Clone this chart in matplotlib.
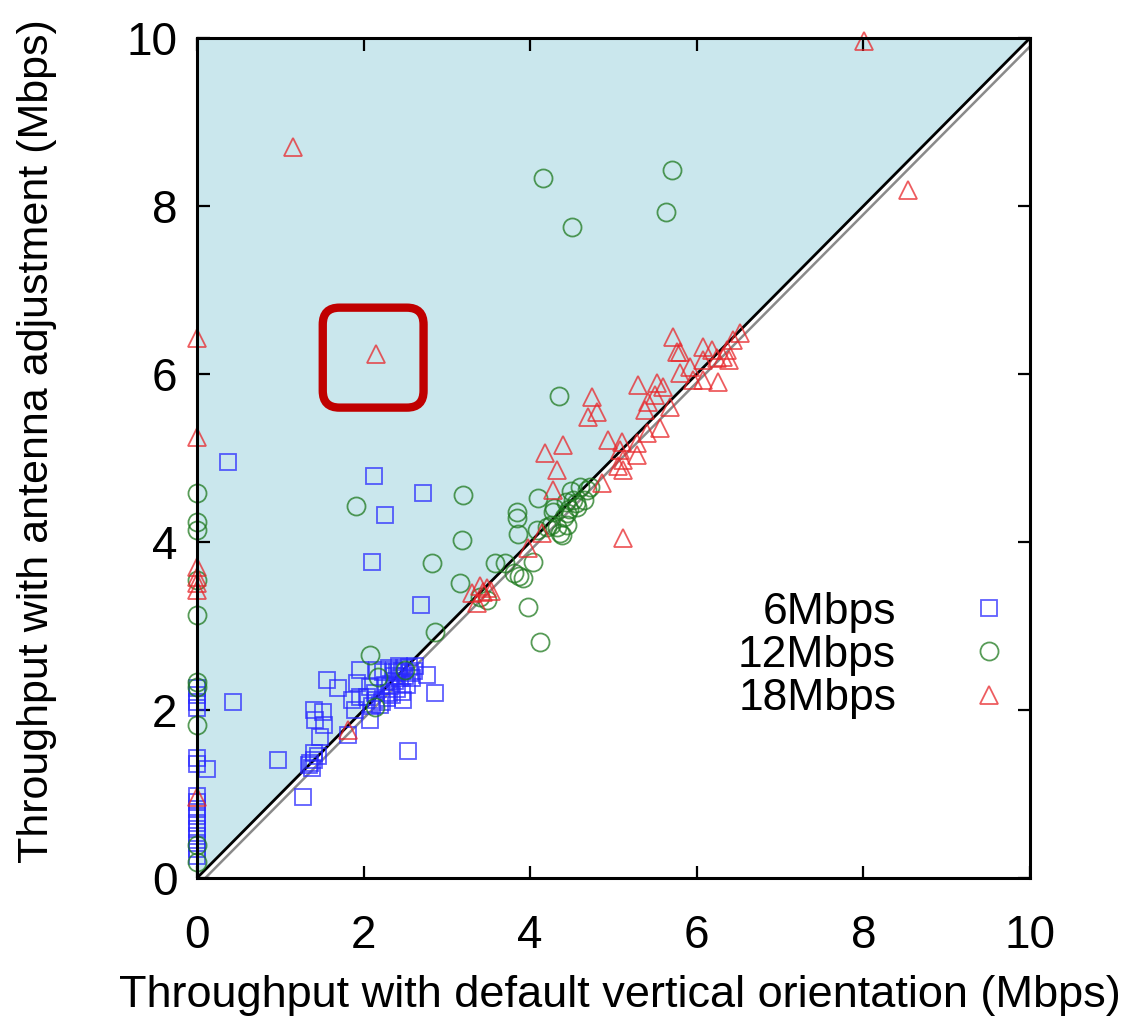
import matplotlib
matplotlib.use("Agg")
import matplotlib.pyplot as plt
from matplotlib.patches import Polygon, FancyBboxPatch

plt.rcParams['font.family'] = ['Liberation Sans', 'DejaVu Sans']

# ---- data ----
x_6 = [0, 0, 0, 0, 0, 0, 0.12, 0, 0, 0, 0, 0, 0, 0, 0, 0, 0,
       0.37, 2.12, 2.71, 2.26, 2.10, 2.69, 0.43, 0.97, 1.27, 2.53, 2.76, 2.86,
       1.56, 1.69, 1.96, 1.92, 1.86, 1.90, 1.96, 2.08, 2.04, 2.16, 2.08, 1.40,
       1.42, 1.51, 1.53, 1.48, 1.40, 1.36, 1.38, 1.45, 1.81, 1.35, 1.40,
       2.23, 2.30, 2.36, 2.42, 2.48, 2.55, 2.60, 2.50, 2.44, 2.38, 2.32, 2.40,
       2.46, 2.34, 2.28, 2.22, 2.30, 2.52, 2.56, 2.47, 2.20, 2.26, 2.14, 2.58,
       2.40, 2.10, 2.15, 2.36, 2.62, 2.46]
y_6 = [2.26, 2.18, 2.10, 2.02, 1.43, 1.36, 1.30, 0.98, 0.90, 0.82, 0.74, 0.66, 0.58, 0.50, 0.42, 0.34, 0.26,
       4.95, 4.79, 4.58, 4.32, 3.76, 3.25, 2.10, 1.40, 0.96, 1.51, 2.42, 2.20,
       2.36, 2.26, 2.48, 2.32, 2.12, 2.00, 2.15, 2.27, 2.15, 2.48, 1.88, 2.00,
       1.88, 1.98, 1.82, 1.68, 1.49, 1.37, 1.31, 1.45, 1.70, 1.34, 1.40,
       2.45, 2.50, 2.48, 2.52, 2.50, 2.51, 2.47, 2.40, 2.38, 2.34, 2.28, 2.25,
       2.22, 2.18, 2.14, 2.10, 2.20, 2.30, 2.44, 2.12, 2.06, 2.30, 2.20, 2.38,
       2.45, 2.05, 2.12, 2.40, 2.52, 2.46]

x_12 = [0, 0, 0, 0, 0, 0, 0, 0, 0, 0,
        4.15, 5.70, 5.63, 4.50, 4.35, 3.19, 1.91, 3.84, 3.84, 3.85, 4.09, 3.18,
        2.82, 3.16, 2.86, 3.58, 3.70, 3.80, 3.91, 3.86, 4.03, 3.97, 4.12, 3.48, 3.40,
        4.36, 4.20, 4.27, 4.44, 4.51, 4.60, 4.68, 4.56, 4.64, 4.08, 4.44, 4.38,
        4.32, 4.40, 4.47, 4.55, 4.29, 4.25, 4.43, 4.49, 4.72,
        2.08, 2.17, 2.14, 2.50]
y_12 = [4.58, 4.24, 4.14, 3.55, 3.13, 2.33, 2.27, 1.82, 0.39, 0.19,
        8.33, 8.43, 7.93, 7.75, 5.74, 4.56, 4.43, 4.36, 4.28, 4.10, 4.52, 4.02,
        3.75, 3.51, 2.93, 3.75, 3.75, 3.63, 3.57, 3.60, 3.76, 3.23, 2.81, 3.31, 3.34,
        4.11, 4.18, 4.36, 4.34, 4.50, 4.65, 4.62, 4.42, 4.50, 4.14, 4.20, 4.08,
        4.18, 4.30, 4.39, 4.47, 4.40, 4.20, 4.48, 4.61, 4.65,
        2.65, 2.39, 2.04, 2.48]

x_18 = [0, 0, 0, 0, 0, 0, 0,
        1.15, 8.01, 8.54, 2.15, 1.81,
        5.71, 5.80, 6.08, 6.18, 6.52, 6.43, 6.36, 6.31, 6.39, 6.24, 6.08, 5.92,
        5.80, 5.96, 6.08, 6.25, 5.29, 5.52, 5.60, 5.50, 5.42, 5.38, 4.74, 4.80,
        4.69, 5.68, 5.56, 5.40, 5.28, 4.93, 5.10, 5.08, 5.28, 5.11, 5.11, 5.05,
        4.86, 5.11, 4.39, 4.18, 4.32, 4.27, 4.14, 3.97, 3.43, 3.30, 3.36, 3.53,
        3.48, 3.40, 5.76]
y_18 = [6.43, 5.25, 3.70, 3.58, 3.51, 3.43, 0.96,
        8.70, 9.96, 8.19, 6.24, 1.76,
        6.44, 6.26, 6.32, 6.29, 6.49, 6.40, 6.29, 6.20, 6.17, 6.19, 6.17, 6.08,
        6.01, 5.93, 5.93, 5.90, 5.87, 5.89, 5.85, 5.75, 5.67, 5.57, 5.73, 5.55,
        5.49, 5.61, 5.36, 5.30, 5.18, 5.21, 5.19, 5.10, 5.04, 4.98, 4.86, 4.90,
        4.70, 4.05, 5.15, 5.06, 4.86, 4.62, 4.11, 3.93, 3.41, 3.39, 3.27, 3.42,
        3.45, 3.48, 6.26]

labels = ['6Mbps', '12Mbps', '18Mbps']
xticks = [0, 2, 4, 6, 8, 10]

# ---- figure ----
fig = plt.figure(figsize=(11.34, 10.22), dpi=100)
ax = fig.add_axes([0.1737, 0.1409, 0.9083 - 0.1737, 0.9628 - 0.1409])
ax.set_xlim(0, 10)
ax.set_ylim(0, 10)

# shaded region above diagonal
ax.add_patch(Polygon([(0, 0), (0, 10), (10, 10)], closed=True,
                     facecolor='#cae7ed', edgecolor='none', zorder=0))
ax.plot([0.1, 10], [0, 9.9], color='#8a8a8a', lw=1.8, zorder=1)
ax.plot([0, 10], [0, 10], color='black', lw=2.0, zorder=1)

blue = '#2a2aff'
green = '#1f7a1f'
red = '#e8262a'
ms = 12
ax.plot(x_6, y_6, ls='none', marker='s', ms=ms, mfc='none', mec=blue,
        mew=1.3, alpha=0.75, clip_on=False, zorder=3, label=labels[0])
ax.plot(x_12, y_12, ls='none', marker='o', ms=ms + 1, mfc='none', mec=green,
        mew=1.3, alpha=0.75, clip_on=False, zorder=3, label=labels[1])
ax.plot(x_18, y_18, ls='none', marker='^', ms=ms + 1, mfc='none', mec=red,
        mew=1.3, alpha=0.75, clip_on=False, zorder=3, label=labels[2])

# highlight box
ax.add_patch(FancyBboxPatch((1.66, 5.75), 0.91, 0.89,
                            boxstyle='round,pad=0.15,rounding_size=0.2',
                            facecolor='none', edgecolor='#c00000', lw=6,
                            zorder=4))

ax.set_xticks(xticks)
ax.set_yticks(xticks)
ax.tick_params(direction='in', length=9, width=1.6, top=True, right=True,
               labelsize=33)
ax.tick_params(axis='x', pad=26)
ax.tick_params(axis='y', pad=14)
for s in ax.spines.values():
    s.set_linewidth(2.2)
    s.set_zorder(5)

ax.set_xlabel('Throughput with default vertical orientation (Mbps)',
              fontsize=32.5)
ax.set_ylabel('Throughput with antenna adjustment (Mbps)',
              fontsize=31)
ax.xaxis.set_label_coords(0.508, -0.115)
ax.yaxis.set_label_coords(-0.168, 0.52)

leg = ax.legend(loc='center right', bbox_to_anchor=(0.978, 0.265),
                frameon=False, markerfirst=False, fontsize=32,
                handlelength=1.0, handletextpad=1.6, labelspacing=0.05,
                borderpad=0, borderaxespad=0)
for t in leg.get_texts():
    t.set_ha('right')

fig.savefig('out.png', dpi=100)
